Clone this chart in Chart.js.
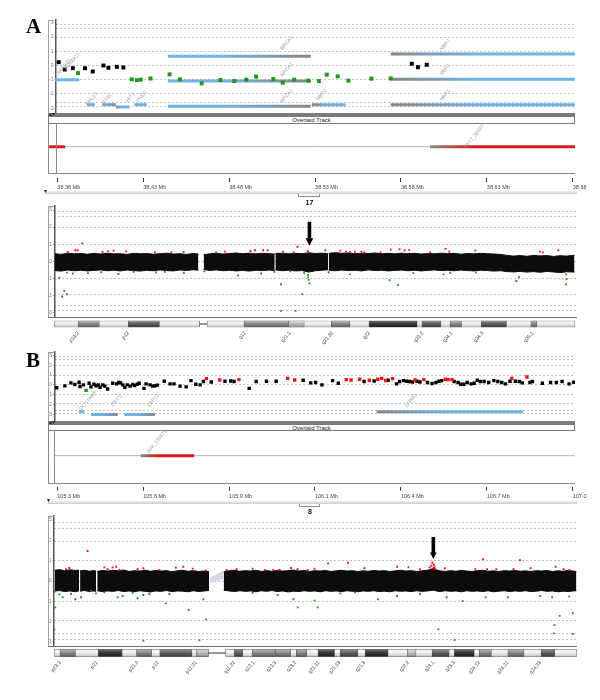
<!DOCTYPE html>
<html>
<head>
<meta charset="utf-8">
<title>Array CGH – chromosome 17 and chromosome 8</title>
<script src="https://cdn.jsdelivr.net/npm/chart.js@4.4.1/dist/chart.umd.min.js"></script>
<style>
 html,body{margin:0;padding:0;background:#fff;}
 body{position:relative;width:600px;height:700px;overflow:hidden;font-family:"Liberation Sans",Arial,sans-serif;}
 canvas{position:absolute;}
 .d{position:absolute;box-sizing:border-box;z-index:2;}
 .letter{position:absolute;z-index:2;font-family:"Liberation Serif","Times New Roman",serif;font-weight:bold;font-size:21px;line-height:21px;color:#000;}
 .track{position:absolute;z-index:2;box-sizing:border-box;border:1px solid #7a7a7a;background:#fff;font-size:6px;line-height:6px;text-align:center;color:#222;}
 .chr{position:absolute;z-index:2;font-size:7px;font-weight:bold;color:#111;width:30px;text-align:center;line-height:7px;}
 .mark{position:absolute;z-index:3;font-size:6px;line-height:6px;color:#222;}
</style>
</head>
<body>
<div class="letter" style="left:26px;top:16px;">A</div>
<div class="letter" style="left:26px;top:350px;">B</div>
<script>
// ====================== DATA ======================
// log2 ratio axis
const logTickVals = [3, 2, 1, 0, -1, -2, -3];
const logTickText = ['3', '2', '1', '0', '-1', '-2', '-3'];
const gridVals = [2.9, 2.6, 1.95, 1, 0, -1, -1.95, -2.6, -2.9];

// ---------- Panel A : chr17 zoom (Mb) ----------
const tickPosA = [38.38, 38.43, 38.48, 38.53, 38.58, 38.63, 38.68];
const tickTextA = ['38.38 Mb', '38.43 Mb', '38.48 Mb', '38.53 Mb', '38.58 Mb', '38.63 Mb', '38.68'];
const probeA_black = [[38.3808,0.23],[38.3843,-0.28],[38.3890,-0.19],[38.3961,-0.19],[38.4006,-0.42],[38.4068,0.00],[38.4097,-0.16],[38.4146,-0.09],[38.4184,-0.14],[38.5863,0.12],[38.5899,-0.12],[38.5950,0.05]];
const probeA_green = [[38.3920,-0.53],[38.4233,-0.97],[38.4262,-1.02],[38.4285,-0.99],[38.4342,-0.91],[38.4453,-0.62],[38.4514,-0.97],[38.4640,-1.25],[38.4749,-1.02],[38.4830,-1.09],[38.4900,-0.99],[38.4957,-0.78],[38.5057,-0.95],[38.5112,-1.20],[38.5178,-0.99],[38.5262,-1.06],[38.5322,-1.09],[38.5368,-0.64],[38.5432,-0.76],[38.5494,-1.06],[38.5628,-0.92],[38.5740,-0.90]];
const geneA_name  = ['AARSD1','RPL27','IFI35','VAT1','RND2','BRCA1','BRCA1','BRCA1','NBR2','NBR1','NBR1','NBR1'];
const geneA_start = [38.3787,38.3971,38.4060,38.4140,38.4248,38.4443,38.4443,38.4443,38.5281,38.5740,38.5740,38.5740];
const geneA_end   = [38.3928,38.4019,38.4140,38.4219,38.4320,38.5275,38.5275,38.5275,38.5478,38.6813,38.6813,38.6813];
const geneA_row   = [-1.00,-2.74,-2.74,-2.90,-2.74,0.64,-1.09,-2.85,-2.74,0.81,-0.97,-2.74];
const geneA_shade = ['b','b','bg','gb','b','bg','bg','bg','gb','gb','gb','gb'];
const geneLabelA_text = ['AARSD1','RUNDC1','RPL27','IFI35','VAT1','RND2','BRCA1','BRCA1','BRCA1','NBR2','NBR1','NBR1','NBR1'];
const geneLabelA_pos  = [38.3839,38.3886,38.4000,38.4088,38.4223,38.4291,38.5135,38.5135,38.5135,38.5339,38.6057,38.6057,38.6057];
const geneLabelA_val  = [-0.07,0.28,-2.35,-2.35,-2.24,-2.17,1.57,-0.28,-2.12,-2.04,1.45,-0.28,-2.08];
const trackA_start = [38.3752, 38.5969];
const trackA_end   = [38.3845, 38.6813];
const trackA_shade = ['r', 'gr'];
const trackA_base  = [38.3752, 38.6813];
const trackLabelA_text = ['chr17_38597'];
const trackLabelA_pos  = [38.6225];
const trackLabelA_val  = [0.32];

// ---------- Panel A : whole chr17 (Mb) ----------
const chromA_upper = [[0.1,0.44],[1,0.40],[2,0.47],[3,0.43],[4,0.45],[5,0.41],[6,0.46],[7,0.42],[8,0.47],[9,0.43],[10,0.44],[11,0.40],[12,0.46],[13,0.43],[14,0.45],[15,0.41],[16,0.44],[17,0.47],[18,0.42],[19,0.44],[20,0.40],[21,0.45],[21.8,0.42],[22.2,null],[22.6,0.38],[23.5,0.43],[24.5,0.46],[25.5,0.42],[26.5,0.45],[27.5,0.48],[28.5,0.44],[29.5,0.47],[30.5,0.43],[31.5,0.46],[32.5,0.44],[33.35,0.42],[33.4,null],[33.45,0.45],[34.5,0.47],[35.5,0.43],[36.5,0.46],[37.5,0.44],[38.5,0.49],[39.5,0.45],[40.5,0.47],[41.45,0.43],[41.5,null],[41.55,0.46],[42.5,0.50],[43.5,0.46],[44.5,0.48],[45.5,0.44],[46.5,0.47],[47.5,0.45],[48.5,0.48],[49.5,0.44],[50.5,0.46],[51.5,0.43],[52.5,0.47],[53.5,0.44],[54.5,0.46],[55.5,0.42],[56.5,0.45],[57.5,0.43],[58.5,0.47],[59.5,0.44],[60.5,0.46],[61.5,0.41],[62.5,0.45],[63.5,0.43],[64.5,0.46],[65.5,0.44],[66.5,0.42],[67.5,0.40],[68.5,0.34],[69.5,0.30],[70.5,0.33],[71.5,0.29],[72.5,0.34],[73.5,0.31],[74.5,0.33],[75.5,0.28],[76.5,0.32],[77.5,0.30],[78.7,0.35]];
const chromA_lower = [[0.1,-0.55],[1,-0.58],[2,-0.52],[3,-0.56],[4,-0.53],[5,-0.57],[6,-0.54],[7,-0.51],[8,-0.56],[9,-0.53],[10,-0.57],[11,-0.52],[12,-0.55],[13,-0.58],[14,-0.53],[15,-0.56],[16,-0.51],[17,-0.55],[18,-0.57],[19,-0.52],[20,-0.54],[21,-0.50],[21.8,-0.53],[22.2,null],[22.6,-0.49],[23.5,-0.54],[24.5,-0.51],[25.5,-0.56],[26.5,-0.53],[27.5,-0.57],[28.5,-0.54],[29.5,-0.58],[30.5,-0.53],[31.5,-0.55],[32.5,-0.52],[33.35,-0.55],[33.4,null],[33.45,-0.51],[34.5,-0.56],[35.5,-0.53],[36.5,-0.57],[37.5,-0.55],[38.5,-0.64],[39.5,-0.56],[40.5,-0.53],[41.45,-0.50],[41.5,null],[41.55,-0.53],[42.5,-0.56],[43.5,-0.52],[44.5,-0.55],[45.5,-0.53],[46.5,-0.57],[47.5,-0.51],[48.5,-0.55],[49.5,-0.53],[50.5,-0.57],[51.5,-0.54],[52.5,-0.52],[53.5,-0.56],[54.5,-0.53],[55.5,-0.57],[56.5,-0.54],[57.5,-0.51],[58.5,-0.55],[59.5,-0.53],[60.5,-0.56],[61.5,-0.52],[62.5,-0.55],[63.5,-0.57],[64.5,-0.53],[65.5,-0.55],[66.5,-0.58],[67.5,-0.56],[68.5,-0.61],[69.5,-0.63],[70.5,-0.60],[71.5,-0.64],[72.5,-0.61],[73.5,-0.65],[74.5,-0.60],[75.5,-0.63],[76.5,-0.67],[77.5,-0.62],[78.7,-0.64]];
const chromA_red = [[2.03,0.55],[3.18,0.64],[3.52,0.64],[4.22,1.05],[7.29,0.55],[8.15,0.58],[8.97,0.62],[10.88,0.58],[15.22,0.52],[17.70,0.51],[19.56,0.55],[24.48,0.51],[25.81,0.56],[29.68,0.60],[30.38,0.64],[31.59,0.64],[32.28,0.64],[34.60,0.56],[36.22,0.52],[36.79,0.85],[38.35,0.60],[41.01,0.64],[43.27,0.62],[44.14,0.56],[44.73,0.55],[45.48,0.55],[46.46,0.56],[46.91,0.51],[49.35,0.52],[50.91,0.68],[52.24,0.70],[53.00,0.64],[53.69,0.66],[56.87,0.52],[59.18,0.72],[59.76,0.56],[63.69,0.62],[73.48,0.56],[73.93,0.52],[76.25,0.64]];
const chromA_green = [[0.75,-0.97],[1.16,-2.07],[1.5,-1.74],[1.9,-1.94],[1.9,-0.67],[2.8,-0.72],[5.1,-0.70],[7.1,-0.65],[9.7,-0.75],[12.0,-0.62],[15.4,-0.66],[16.7,-0.62],[19.6,-0.68],[22.7,-0.60],[27.8,-0.83],[31.3,-0.72],[33.3,-0.62],[34.3,-1.35],[34.3,-2.91],[35.7,-0.60],[36.5,-2.91],[37.5,-1.94],[37.8,-0.68],[38.4,-0.80],[38.4,-0.95],[38.6,-1.30],[38.5,-1.10],[41.5,-0.65],[44.7,-0.77],[50.7,-1.12],[52.0,-1.40],[54.3,-0.70],[58.9,-0.77],[59.9,-0.68],[63.8,-0.66],[69.9,-1.16],[70.3,-0.93],[77.4,-0.77],[77.4,-1.35],[77.5,-1.05]];
const arrowA = [38.6, 2.31, 0.91];           // position (Mb), arrow top, arrow tip (log2 ratio)
// chr17 ideogram
const armA_start = [0, 23.1];
const armA_end   = [22.0, 78.77];
const cenA = [22.0, 23.1];
const bandA_start = [3.6, 11.2, 28.7, 35.4, 41.9, 47.6, 55.6, 59.9, 64.6, 72.1];
const bandA_end   = [6.8, 15.9, 35.4, 37.8, 44.7, 54.9, 58.5, 61.6, 68.4, 73.0];
const bandA_stain = ['gpos50','gpos75','gpos50','gpos25','gpos50','gpos100','gpos75','gpos50','gpos75','gpos50'];
const bandLabelA_pos  = [3.63, 11.2, 28.85, 35.66, 42.1, 47.65, 55.73, 60.12, 64.8, 72.37];
const bandLabelA_text = ['p13.2','p12','q12','q21.1','q21.32','q22','q23.2','q24.1','q24.3','q25.1'];

// ---------- Panel B : chr8 zoom (Mb) ----------
const tickPosB = [105.3, 105.5833, 105.8667, 106.15, 106.4333, 106.7167, 107.0];
const tickTextB = ['105.3 Mb', '105.6 Mb', '105.9 Mb', '106.1 Mb', '106.4 Mb', '106.7 Mb', '107.0'];
const probeB_black = [[105.298,-0.30],[105.325,-0.10],[105.345,0.20],[105.358,0.04],[105.372,0.27],[105.375,-0.16],[105.386,0.00],[105.405,0.17],[105.411,-0.20],[105.421,0.07],[105.428,-0.10],[105.435,0.00],[105.441,-0.26],[105.450,0.00],[105.457,-0.13],[105.466,-0.43],[105.483,0.17],[105.496,0.10],[105.503,0.24],[105.509,0.20],[105.516,0.00],[105.523,-0.26],[105.531,0.00],[105.540,-0.13],[105.549,0.04],[105.555,-0.06],[105.564,0.07],[105.570,0.17],[105.586,-0.36],[105.593,0.10],[105.606,0.00],[105.615,-0.13],[105.622,-0.10],[105.630,-0.03],[105.653,0.37],[105.672,0.10],[105.685,0.10],[105.705,-0.13],[105.725,-0.20],[105.741,0.44],[105.757,0.07],[105.771,0.00],[105.782,0.34],[105.808,0.30],[105.853,0.37],[105.872,0.40],[105.883,0.34],[105.933,-0.36],[105.956,0.34],[105.990,0.37],[106.022,0.37],[106.111,0.47],[106.136,0.20],[106.152,0.24],[106.173,0.00],[106.208,0.44],[106.227,0.17],[106.312,0.34],[106.345,0.40],[106.391,0.47],[106.419,0.10],[106.429,0.34],[106.442,0.44],[106.452,0.37],[106.461,0.34],[106.471,0.30],[106.486,0.37],[106.496,0.30],[106.521,0.24],[106.536,0.14],[106.549,0.24],[106.559,0.37],[106.568,0.44],[106.609,0.34],[106.622,0.24],[106.631,0.07],[106.641,0.07],[106.652,0.24],[106.665,0.10],[106.675,0.17],[106.685,0.47],[106.695,0.34],[106.708,0.34],[106.723,0.24],[106.740,0.44],[106.753,0.34],[106.766,0.24],[106.778,0.10],[106.793,0.37],[106.811,0.37],[106.824,0.34],[106.834,0.20],[106.859,0.24],[106.867,0.34],[106.900,0.17],[106.927,0.24],[106.946,0.24],[106.965,0.34],[106.988,0.10],[107.003,0.27]];
const probeB_red = [[105.792,0.64],[105.836,0.50],[105.899,0.54],[106.060,0.67],[106.083,0.50],[106.253,0.54],[106.269,0.50],[106.297,0.57],[106.329,0.47],[106.357,0.57],[106.370,0.67],[106.383,0.45],[106.406,0.64],[106.480,0.50],[106.509,0.54],[106.580,0.57],[106.589,0.54],[106.602,0.54],[106.799,0.67],[106.849,0.80]];
const probeB_green = [[105.395,-0.56]];
const geneB_name  = ['DCSTAMP','DPYS','LRP12','ZFPM2'];
const geneB_start = [105.3716,105.4112,105.5210,106.3535];
const geneB_end   = [105.3891,105.4992,105.6222,106.8364];
const geneB_row   = [-2.76,-3.03,-3.03,-2.76];
const geneB_shade = ['b','bg','bg','gb'];
const geneLabelB_text = ['DCSTAMP','DPYS','LRP12','ZFPM2'];
const geneLabelB_pos  = [105.4022,105.4959,105.6166,106.4667];
const geneLabelB_val  = [-1.6,-1.6,-1.6,-1.6];
const trackB_start = [105.575];
const trackB_end   = [105.752];
const trackB_shade = ['gr'];
const trackB_base  = [105.2908, 107.0076];
const trackLabelB_text = ['chr8_105575'];
const trackLabelB_pos  = [105.628];
const trackLabelB_val  = [0.45];

// ---------- Panel B : whole chr8 (Mb) ----------
const chromB_upper = [[0.2,0.53],[1.5,0.56],[3,0.51],[4.5,0.55],[6,0.52],[7.0,0.54],[7.15,null],[7.3,0.50],[8.5,0.53],[10,0.48],[11,0.52],[11.8,0.49],[11.95,null],[12.1,0.47],[13.5,0.52],[15,0.49],[16.5,0.53],[18,0.50],[19.5,0.54],[21,0.47],[22.5,0.51],[24,0.49],[25.5,0.53],[27,0.48],[28.5,0.52],[30,0.49],[31.5,0.51],[33,0.46],[34.5,0.50],[36,0.53],[37.5,0.48],[39,0.51],[40.5,0.47],[42,0.49],[43.4,0.46],[45.4,null],[47.5,0.45],[49,0.50],[50.5,0.53],[52,0.48],[53.5,0.51],[55,0.49],[56.5,0.53],[58,0.47],[59.5,0.51],[61,0.48],[62.5,0.52],[64,0.49],[65.5,0.51],[67,0.54],[68.5,0.49],[70,0.52],[71.5,0.47],[73,0.51],[74.5,0.49],[76,0.52],[77.5,0.47],[79,0.50],[80.5,0.53],[82,0.49],[83.5,0.51],[85,0.47],[86.5,0.50],[88,0.48],[89.5,0.52],[91,0.49],[92.5,0.51],[94,0.47],[95.5,0.50],[97,0.53],[98.5,0.49],[100,0.51],[101.5,0.47],[103,0.50],[104.5,0.53],[105.5,0.58],[106.2,0.64],[107,0.55],[108,0.50],[109.5,0.47],[111,0.51],[112.5,0.48],[114,0.52],[115.5,0.49],[117,0.47],[118.5,0.51],[120,0.53],[121.5,0.48],[123,0.50],[124.5,0.47],[126,0.51],[127.5,0.49],[129,0.52],[130.5,0.48],[132,0.50],[133.5,0.47],[135,0.51],[136.5,0.49],[138,0.52],[139.5,0.47],[141,0.50],[142.5,0.48],[144,0.52],[145.2,0.49],[146.2,0.47]];
const chromB_lower = [[0.2,-0.50],[1.5,-0.47],[3,-0.52],[4.5,-0.49],[6,-0.53],[7.0,-0.48],[7.15,null],[7.3,-0.50],[8.5,-0.47],[10,-0.52],[11,-0.49],[11.8,-0.51],[11.95,null],[12.1,-0.48],[13.5,-0.52],[15,-0.49],[16.5,-0.51],[18,-0.47],[19.5,-0.52],[21,-0.49],[22.5,-0.53],[24,-0.48],[25.5,-0.51],[27,-0.54],[28.5,-0.49],[30,-0.51],[31.5,-0.47],[33,-0.52],[34.5,-0.49],[36,-0.50],[37.5,-0.53],[39,-0.48],[40.5,-0.52],[42,-0.49],[43.4,-0.47],[45.4,null],[47.5,-0.45],[49,-0.49],[50.5,-0.52],[52,-0.48],[53.5,-0.51],[55,-0.49],[56.5,-0.53],[58,-0.48],[59.5,-0.51],[61,-0.47],[62.5,-0.52],[64,-0.49],[65.5,-0.54],[67,-0.50],[68.5,-0.52],[70,-0.48],[71.5,-0.51],[73,-0.49],[74.5,-0.53],[76,-0.48],[77.5,-0.51],[79,-0.49],[80.5,-0.52],[82,-0.48],[83.5,-0.51],[85,-0.53],[86.5,-0.49],[88,-0.51],[89.5,-0.48],[91,-0.52],[92.5,-0.50],[94,-0.53],[95.5,-0.48],[97,-0.51],[98.5,-0.49],[100,-0.52],[101.5,-0.48],[103,-0.51],[104.5,-0.49],[105.5,-0.47],[106.2,-0.45],[107,-0.49],[108,-0.52],[109.5,-0.48],[111,-0.51],[112.5,-0.49],[114,-0.53],[115.5,-0.48],[117,-0.51],[118.5,-0.49],[120,-0.52],[121.5,-0.48],[123,-0.53],[124.5,-0.50],[126,-0.48],[127.5,-0.52],[129,-0.49],[130.5,-0.51],[132,-0.48],[133.5,-0.52],[135,-0.50],[136.5,-0.47],[138,-0.51],[139.5,-0.49],[141,-0.53],[142.5,-0.50],[144,-0.52],[145.2,-0.49],[146.2,-0.48]];
const chromB_ghost_upper = [[43.6,0.15],[47.4,0.49]];
const chromB_ghost_lower = [[43.6,-0.10],[47.4,0.10]];
const chromB_red = [[3.36,0.58],[4.28,0.64],[9.4,1.48],[14.1,0.67],[15.0,0.58],[16.4,0.67],[17.4,0.70],[18.3,0.54],[23.4,0.58],[25.0,0.63],[29.5,0.54],[34.1,0.66],[36.2,0.70],[38.8,0.61],[42.5,0.51],[48.3,0.54],[51.1,0.58],[55.6,0.61],[59.1,0.54],[61.4,0.54],[63.1,0.54],[66.3,0.64],[68.2,0.58],[71.0,0.54],[72.9,0.61],[76.7,0.87],[82.3,0.90],[86.9,0.63],[96.0,0.70],[99.2,0.67],[102.4,0.58],[105.1,0.67],[105.6,0.75],[105.9,0.90],[106.1,0.62],[106.3,0.80],[106.5,0.68],[106.7,0.58],[109.4,0.63],[117.9,0.58],[120.1,1.07],[121.2,0.58],[123.8,0.58],[128.6,0.58],[130.4,1.03],[133.4,0.63],[140.4,0.70],[142.6,0.58],[144.2,0.54]];
const chromB_green = [[0.08,-0.53],[0.36,-1.30],[0.10,-2.38],[1.48,-0.66],[2.41,-0.80],[4.76,-0.64],[5.96,-0.90],[7.56,-0.80],[10.36,-0.48],[11.75,-0.61],[14.08,-0.56],[17.8,-0.80],[19.2,-0.74],[22.0,-0.58],[23.4,-0.85],[25.0,-0.69],[25.0,-2.94],[26.7,-0.64],[31.3,-1.10],[32.3,-0.64],[37.7,-1.43],[40.7,-2.91],[41.8,-0.90],[42.5,-1.89],[55.6,-0.58],[62.6,-0.69],[67.0,-0.90],[68.2,-1.30],[72.9,-0.97],[73.8,-1.30],[80.1,-0.61],[84.2,-0.56],[90.7,-0.90],[96.0,-0.74],[102.4,-0.64],[107.6,-2.38],[109.9,-0.80],[112.1,-2.91],[114.4,-0.99],[120.8,-0.80],[127.0,-0.80],[136.1,-0.74],[139.4,-0.80],[139.9,-2.58],[140.1,-2.17],[141.5,-1.72],[144.2,-0.77],[145.2,-1.59],[145.2,-2.61]];
const arrowB = [106.16, 2.17, 1.08];
// chr8 ideogram
const armB_start = [0, 48.0];
const armB_end   = [43.2, 146.27];
const cenB = [43.2, 48.0];
const bandB_start = [1.7, 12.4, 23.1, 29.6, 39.8, 50.4, 55.5, 61.9, 67.8, 73.9, 80.1, 87.1, 98.9, 105.8, 112.0, 119.0, 127.0, 136.3];
const bandB_end   = [6.0, 19.1, 27.3, 38.6, 43.2, 52.8, 61.7, 66.2, 70.7, 78.5, 85.0, 93.5, 101.3, 110.6, 117.6, 122.4, 131.5, 140.1];
const bandB_stain = ['gpos50','gpos100','gpos50','gpos75','gpos25','gpos75','gpos50','gpos50','gpos50','gpos100','gpos75','gpos100','gpos25','gpos75','gpos100','gpos50','gpos50','gpos75'];
const bandLabelB_pos  = [1.76, 12.0, 23.4, 29.1, 39.8, 50.5, 55.9, 62.0, 67.6, 74.1, 79.9, 86.9, 99.2, 106.2, 112.0, 119.0, 127.0, 136.1];
const bandLabelB_text = ['p23.2','p22','p21.2','p12','p11.21','q11.22','q12.1','q12.3','q13.2','q21.11','q21.13','q21.3','q22.2','q23.1','q23.3','q24.12','q24.21','q24.23'];

// ====================== RENDERING ======================
Chart.defaults.font.family = '"Liberation Sans", Arial, sans-serif';
Chart.defaults.color = '#444';
const BLUE = '#6fb2e4', GENE_GRAY = '#878787', RED = '#d91c1c', GREEN = '#1c961c', PRED = '#f01414';

const toPts = arr => arr.map(p => ({ x: p[0], y: p[1] }));

function canvasAt(top, h) {
  const c = document.createElement('canvas');
  c.width = 600; c.height = h;
  c.style.left = '0px'; c.style.top = top + 'px';
  document.body.appendChild(c);
  return c;
}
function box(left, top, w, h, css) {
  const d = document.createElement('div');
  d.className = 'd';
  d.style.left = left + 'px'; d.style.top = top + 'px';
  d.style.width = w + 'px'; d.style.height = h + 'px';
  d.style.cssText += ';' + (css || '');
  document.body.appendChild(d);
  return d;
}
function textDiv(cls, left, top, txt) {
  const d = document.createElement('div');
  d.className = cls; d.style.left = left + 'px'; d.style.top = top + 'px';
  d.textContent = txt; document.body.appendChild(d); return d;
}

function geneStroke(ctx, start, end, shade) {
  const chart = ctx.chart; const sx = chart.scales && chart.scales.x;
  if (!chart.chartArea || !sx) return shade === 'gb' ? GENE_GRAY : BLUE;
  if (shade === 'b') return BLUE;
  const x0 = sx.getPixelForValue(start), x1 = sx.getPixelForValue(end);
  const g = chart.ctx.createLinearGradient(x0, 0, x1, 0);
  if (shade === 'bg') { g.addColorStop(0, BLUE); g.addColorStop(0.4, BLUE); g.addColorStop(1, GENE_GRAY); }
  else { g.addColorStop(0, GENE_GRAY); g.addColorStop(0.45, BLUE); g.addColorStop(1, BLUE); }
  return g;
}
function trackStroke(ctx, start, end, shade) {
  const chart = ctx.chart; const sx = chart.scales && chart.scales.x;
  if (!chart.chartArea || !sx || shade === 'r') return RED;
  const x0 = sx.getPixelForValue(start), x1 = sx.getPixelForValue(end);
  const g = chart.ctx.createLinearGradient(x0, 0, x1, 0);
  g.addColorStop(0, '#8a8a8a'); g.addColorStop(0.3, RED); g.addColorStop(1, RED);
  return g;
}
const stainColors = {
  gneg:   ['#ffffff', '#eeeeee', '#c4c4c4'],
  gpos25: ['#e2e2e2', '#bcbcbc', '#8c8c8c'],
  gpos50: ['#bdbdbd', '#8a8a8a', '#5a5a5a'],
  gpos75: ['#9a9a9a', '#616161', '#383838'],
  gpos100:['#707070', '#3a3a3a', '#1a1a1a']
};
function stainFill(ctx, stain) {
  const ca = ctx.chart.chartArea; const c = stainColors[stain];
  if (!ca) return c[1];
  const g = ctx.chart.ctx.createLinearGradient(0, ca.top, 0, ca.bottom);
  g.addColorStop(0, c[0]); g.addColorStop(0.45, c[1]); g.addColorStop(1, c[2]);
  return g;
}

function labelPlugin(texts, xs, ys, color, size, angle) {
  return { id: 'rotLabels', afterDatasetsDraw(chart) {
    const ctx = chart.ctx, sx = chart.scales.x, sy = chart.scales.y;
    ctx.save();
    ctx.fillStyle = color; ctx.font = size + 'px "Liberation Sans", Arial, sans-serif';
    ctx.textAlign = 'center'; ctx.textBaseline = 'middle';
    texts.forEach((t, i) => {
      ctx.save();
      ctx.translate(sx.getPixelForValue(xs[i]), sy.getPixelForValue(ys[i]));
      ctx.rotate(-angle * Math.PI / 180);
      ctx.fillText(t, 0, 0);
      ctx.restore();
    });
    ctx.restore();
  } };
}
function arrowPlugin(a, shaftW, headW, headH) {
  return { id: 'arrowMark', afterDatasetsDraw(chart) {
    const ctx = chart.ctx;
    const x = chart.scales.x.getPixelForValue(a[0]);
    const y1 = chart.scales.y.getPixelForValue(a[1]);
    const y2 = chart.scales.y.getPixelForValue(a[2]);
    ctx.save(); ctx.fillStyle = '#000';
    ctx.fillRect(x - shaftW / 2, y1, shaftW, (y2 - headH) - y1 + 0.5);
    ctx.beginPath(); ctx.moveTo(x - headW / 2, y2 - headH); ctx.lineTo(x + headW / 2, y2 - headH); ctx.lineTo(x, y2); ctx.closePath(); ctx.fill();
    ctx.restore();
  } };
}

function logScales(ymin, ymax, labelW) {
  return {
    y: { type: 'linear', position: 'left', min: ymin, max: ymax,
      afterFit(s) { s.width = labelW; },
      afterBuildTicks(s) { s.ticks = logTickVals.map(v => ({ value: v })); },
      ticks: { autoSkip: false, padding: 1, font: { size: 5 }, color: '#777', callback: (v, i) => logTickText[i] },
      grid: { display: true, drawOnChartArea: false, drawTicks: true, tickLength: 1.5, color: '#999' },
      border: { display: true, color: '#555', width: 1.5 } },
    yg: { type: 'linear', position: 'left', min: ymin, max: ymax,
      afterFit(s) { s.width = 0; },
      afterBuildTicks(s) { s.ticks = gridVals.map(v => ({ value: v })); },
      ticks: { display: false },
      grid: { display: true, drawOnChartArea: true, drawTicks: false, tickLength: 0, color: '#c3c3c3', lineWidth: 1 },
      border: { display: false, dash: [2, 2] } }
  };
}

function probeChart(g, xmin, xmax, ymin, ymax, datasets, plugins) {
  const c = canvasAt(g.ctop, g.h);
  return new Chart(c, {
    type: 'line',
    data: { datasets: datasets },
    options: {
      responsive: false, animation: false, events: [],
      layout: { autoPadding: false, padding: { left: 48, right: 600 - g.right, top: g.top - g.ctop, bottom: g.ctop + g.h - g.bottom } },
      scales: Object.assign({ x: { type: 'linear', min: xmin, max: xmax, display: false } }, logScales(ymin, ymax, g.left - 48)),
      plugins: { legend: { display: false }, tooltip: { enabled: false } }
    },
    plugins: plugins || []
  });
}

function trackChart(g, xmin, xmax, ymin, ymax, tickPos, tickText, datasets, plugins) {
  const c = canvasAt(g.ctop, g.h);
  return new Chart(c, {
    type: 'line',
    data: { datasets: datasets },
    options: {
      responsive: false, animation: false, events: [],
      layout: { autoPadding: false, padding: { left: g.left, right: 600 - g.right, top: g.top - g.ctop, bottom: g.ctop + g.h - g.bottom - 14 } },
      scales: {
        x: { type: 'linear', position: 'bottom', min: xmin, max: xmax,
          afterFit(s) { s.height = 14; },
          afterBuildTicks(s) { s.ticks = tickPos.map(v => ({ value: v })); },
          ticks: { autoSkip: false, minRotation: 0, maxRotation: 0, align: 'start', padding: 2, font: { size: 5.5 }, color: '#444', callback: (v, i) => tickText[i] },
          grid: { display: true, drawOnChartArea: false, drawTicks: true, tickLength: 4, color: '#333', lineWidth: 1 },
          border: { display: false } },
        y: { type: 'linear', min: ymin, max: ymax, display: false }
      },
      plugins: { legend: { display: false }, tooltip: { enabled: false } }
    },
    plugins: plugins || []
  });
}

function ideoChart(g, xmax, armS, armE, cen, bS, bE, bStain, lPos, lText) {
  const c = canvasAt(g.ctop, g.h);
  const ds = [];
  armS.forEach((s, i) => ds.push({ data: [[s, armE[i]]], backgroundColor: ctx => stainFill(ctx, 'gneg'), borderColor: '#6a6a6a', borderWidth: 0.8, borderSkipped: false, barPercentage: 1, categoryPercentage: 1, grouped: false, order: 3 }));
  bS.forEach((s, i) => ds.push({ data: [[s, bE[i]]], backgroundColor: ctx => stainFill(ctx, bStain[i]), borderColor: '#555', borderWidth: 0.6, borderSkipped: false, barPercentage: 1, categoryPercentage: 1, grouped: false, order: 2 }));
  ds.push({ data: [[cen[0], cen[1]]], backgroundColor: '#333', borderWidth: 0, barPercentage: 0.16, categoryPercentage: 1, grouped: false, order: 1 });
  return new Chart(c, {
    type: 'bar',
    data: { labels: [''], datasets: ds },
    options: {
      indexAxis: 'y', responsive: false, animation: false, events: [],
      layout: { autoPadding: false, padding: { left: g.left, right: 600 - g.right, top: g.top - g.ctop, bottom: g.ctop + g.h - g.bottom - 22 } },
      scales: {
        x: { type: 'linear', position: 'bottom', min: 0, max: xmax,
          afterFit(s) { s.height = 22; },
          afterBuildTicks(s) { s.ticks = lPos.map(v => ({ value: v })); },
          ticks: { autoSkip: false, minRotation: 50, maxRotation: 50, padding: 3, font: { size: 5 }, color: '#333', callback: (v, i) => lText[i] },
          grid: { display: false, drawTicks: false, tickLength: 0 },
          border: { display: false } },
        y: { type: 'category', display: false }
      },
      plugins: { legend: { display: false }, tooltip: { enabled: false } }
    }
  });
}

function geneDatasets(names, starts, ends, rows, shades) {
  return names.map((n, i) => ({
    label: n, data: [{ x: starts[i], y: rows[i] }, { x: ends[i], y: rows[i] }],
    borderColor: ctx => geneStroke(ctx, starts[i], ends[i], shades[i]),
    borderWidth: 3, borderCapStyle: 'butt', pointRadius: 0, showLine: true, clip: 3, order: 3
  }));
}
function pointSet(pairs, color, r, order) {
  return { data: toPts(pairs), showLine: false, pointStyle: 'rect', pointRadius: r, pointBackgroundColor: color, pointBorderWidth: 0, order: order };
}
function bandSets(upper, lower, color, order) {
  return [
    { data: toPts(upper), borderColor: color, backgroundColor: color, borderWidth: 1, pointRadius: 0, fill: '+1', spanGaps: false, order: order, tension: 0 },
    { data: toPts(lower), borderColor: color, borderWidth: 1, pointRadius: 0, fill: false, spanGaps: false, order: order, tension: 0 }
  ];
}
function trackDatasets(base, starts, ends, shades) {
  const ds = [{ data: [{ x: base[0], y: 0 }, { x: base[1], y: 0 }], borderColor: '#b4b4b4', borderWidth: 1, pointRadius: 0, showLine: true, clip: 8, order: 4 }];
  starts.forEach((s, i) => ds.push({ data: [{ x: s, y: 0 }, { x: ends[i], y: 0 }], borderColor: ctx => trackStroke(ctx, s, ends[i], shades[i]), borderWidth: 3, borderCapStyle: 'butt', pointRadius: 0, showLine: true, clip: 8, order: 1 }));
  return ds;
}

// ---------- Panel A ----------
probeChart({ ctop: 0, h: 116, left: 56, right: 575, top: 20, bottom: 113 }, 38.3792, 38.6813, -3.253, 3.183,
  geneDatasets(geneA_name, geneA_start, geneA_end, geneA_row, geneA_shade).concat([
    pointSet(probeA_black, '#000', 2.8, 1), pointSet(probeA_green, GREEN, 2.8, 1)]),
  [labelPlugin(geneLabelA_text, geneLabelA_pos, geneLabelA_val, '#a0a0a0', 5, 50)]);

trackChart({ ctop: 114, h: 82, left: 56, right: 575, top: 123.5, bottom: 178 }, 38.3792, 38.6813, -1, 0.74, tickPosA, tickTextA,
  trackDatasets(trackA_base, trackA_start, trackA_end, trackA_shade),
  [labelPlugin(trackLabelA_text, trackLabelA_pos, trackLabelA_val, '#a0a0a0', 5, 50)]);

probeChart({ ctop: 200, h: 120, left: 54.3, right: 577, top: 206, bottom: 317 }, 0, 79.08, -3.215, 3.238,
  [pointSet(chromA_red, PRED, 1.3, 1), pointSet(chromA_green, GREEN, 1.3, 1)].concat(bandSets(chromA_upper, chromA_lower, '#0c0c0c', 5)),
  [arrowPlugin(arrowA, 3.6, 7.6, 7.5)]);

ideoChart({ ctop: 318, h: 40, left: 54.3, right: 575, top: 320.7, bottom: 327.3 }, 78.77,
  armA_start, armA_end, cenA, bandA_start, bandA_end, bandA_stain, bandLabelA_pos, bandLabelA_text);

// ---------- Panel B ----------
probeChart({ ctop: 340, h: 84, left: 54.5, right: 575, top: 351.7, bottom: 421.7 }, 105.2908, 107.0076, -3.6, 3.4,
  geneDatasets(geneB_name, geneB_start, geneB_end, geneB_row, geneB_shade).concat([
    pointSet(probeB_red, PRED, 2.4, 1), pointSet(probeB_green, GREEN, 2.4, 1), pointSet(probeB_black, '#000', 2.4, 2)]),
  [labelPlugin(geneLabelB_text, geneLabelB_pos, geneLabelB_val, '#a0a0a0', 5, 50)]);

trackChart({ ctop: 421, h: 84, left: 54.5, right: 575, top: 431, bottom: 486.7 }, 105.2908, 107.0076, -1, 0.797, tickPosB, tickTextB,
  trackDatasets(trackB_base, trackB_start, trackB_end, trackB_shade),
  [labelPlugin(trackLabelB_text, trackLabelB_pos, trackLabelB_val, '#a0a0a0', 5, 50)]);

probeChart({ ctop: 510, h: 140, left: 54, right: 577, top: 515.7, bottom: 646 }, 0, 146.37, -3.202, 3.217,
  [pointSet(chromB_red, PRED, 1.3, 1), pointSet(chromB_green, GREEN, 1.3, 1)]
    .concat(bandSets(chromB_upper, chromB_lower, '#0c0c0c', 5))
    .concat([
      { data: toPts(chromB_ghost_upper), borderColor: '#c9d3de', backgroundColor: '#d3dce6', borderWidth: 0.5, pointRadius: 0, fill: '+1', order: 6 },
      { data: toPts(chromB_ghost_lower), borderColor: '#c9d3de', borderWidth: 0.5, pointRadius: 0, fill: false, order: 6 }]),
  [arrowPlugin(arrowB, 3.6, 6.5, 6.5)]);

ideoChart({ ctop: 647, h: 40, left: 54, right: 576.7, top: 649.3, bottom: 656.7 }, 146.27,
  armB_start, armB_end, cenB, bandB_start, bandB_end, bandB_stain, bandLabelB_pos, bandLabelB_text);

// ---------- frames, track headers, scroll bars ----------
// A
box(48, 20, 1, 93, 'background:#a0a0a0;');
box(48, 20, 6, 1, 'background:#a0a0a0;');
box(48, 113, 527, 2.5, 'background:#7b7b7b;');
textDiv('mark', 49, 110.5, '\u25B4\u25BE');
const trA = box(48, 116, 527, 7.5, ''); trA.className = 'track'; trA.textContent = 'Overlaid Track';
box(48, 123.5, 1, 50, 'background:#8a8a8a;');
box(55.5, 123.5, 1, 50, 'background:#8a8a8a;');
box(48, 173, 527, 1, 'background:#8a8a8a;');
box(45, 191, 532, 3, 'background:linear-gradient(#eef2f6,#c2cedb);');
textDiv('mark', 44, 187.5, '\u25BE');
box(298, 194, 22, 3, 'border:1px solid #8f8f8f;border-top:none;');
textDiv('chr', 294.5, 198.5, '17');
box(48, 206, 1, 111, 'background:#a0a0a0;');
box(48, 206, 6, 1, 'background:#a0a0a0;');
box(48, 316.5, 529, 1.5, 'background:#707070;');
// B
box(48, 351.7, 1, 70, 'background:#a0a0a0;');
box(48, 351.7, 6, 1, 'background:#a0a0a0;');
box(48, 421, 527, 2.5, 'background:#7b7b7b;');
textDiv('mark', 49, 418.5, '\u25B4\u25BE');
const trB = box(48, 424, 527, 7, ''); trB.className = 'track'; trB.textContent = 'Overlaid Track';
box(48, 431, 1, 52, 'background:#8a8a8a;');
box(54, 431, 1, 52, 'background:#8a8a8a;');
box(48, 482.5, 527, 1, 'background:#8a8a8a;');
box(48, 500.5, 529, 3, 'background:linear-gradient(#eef2f6,#c2cedb);');
textDiv('mark', 47, 497, '\u25BE');
box(299, 503.5, 21, 3, 'border:1px solid #8f8f8f;border-top:none;');
textDiv('chr', 295, 508, '8');
box(48, 515.7, 1, 130.3, 'background:#a0a0a0;');
box(48, 515.7, 6, 1, 'background:#a0a0a0;');
box(48, 645.5, 529, 1.5, 'background:#707070;');
</script>
</body>
</html>
